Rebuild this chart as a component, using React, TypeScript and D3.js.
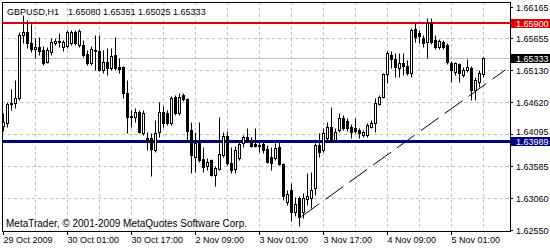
import React from 'react';
import * as d3 from 'd3';

const symbolTitle = 'GBPUSD,H1';
const titleValues = '1.65080 1.65351 1.65025 1.65333';
const copyright = 'MetaTrader, © 2001-2009 MetaQuotes Software Corp.';

const opens = [
  1.6423, 1.6428, 1.6460, 1.6460, 1.6468, 1.6571, 1.6575, 1.6558, 1.6548, 1.6551,
  1.6546, 1.6527, 1.6543, 1.6558, 1.6559, 1.6551, 1.6553, 1.6558, 1.6575, 1.6554,
  1.6554, 1.6540, 1.6525, 1.6546, 1.6545, 1.6514, 1.6527, 1.6517, 1.6538, 1.6519,
  1.6519, 1.6477, 1.6438, 1.6438, 1.6446, 1.6412, 1.6404, 1.6404, 1.6384, 1.6413,
  1.6446, 1.6444, 1.6428, 1.6470, 1.6444, 1.6473, 1.6467, 1.6417, 1.6373, 1.6396,
  1.6370, 1.6358, 1.6368, 1.6344, 1.6353, 1.6376, 1.6407, 1.6363, 1.6353, 1.6371,
  1.6396, 1.6405, 1.6399, 1.6394, 1.6392, 1.6394, 1.6386, 1.6373, 1.6371, 1.6389,
  1.6362, 1.6300, 1.6319, 1.6284, 1.6306, 1.6284, 1.6305, 1.6306, 1.6323, 1.6392,
  1.6384, 1.6404, 1.6421, 1.6400, 1.6417, 1.6436, 1.6431, 1.6421, 1.6420, 1.6417,
  1.6408, 1.6408, 1.6421, 1.6428, 1.6459, 1.6470, 1.6507, 1.6538, 1.6532, 1.6517,
  1.6525, 1.6520, 1.6509, 1.6580, 1.6574, 1.6566, 1.6559, 1.6590, 1.6562, 1.6551,
  1.6559, 1.6554, 1.6525, 1.6511, 1.6524, 1.6506, 1.6514, 1.6517, 1.6481, 1.6494,
  1.65080,
];
const highs = [
  1.6444, 1.6462, 1.6483, 1.6498, 1.6575, 1.6603, 1.6595, 1.6588, 1.6566, 1.6567,
  1.6553, 1.6551, 1.6566, 1.6566, 1.6574, 1.6562, 1.6579, 1.6579, 1.6579, 1.6580,
  1.6562, 1.6546, 1.6553, 1.6571, 1.6571, 1.6546, 1.6549, 1.6549, 1.6567, 1.6533,
  1.6520, 1.6498, 1.6449, 1.6452, 1.6449, 1.6449, 1.6413, 1.6412, 1.6433, 1.6462,
  1.6456, 1.6449, 1.6472, 1.6473, 1.6477, 1.6477, 1.6468, 1.6430, 1.6413, 1.6430,
  1.6389, 1.6371, 1.6370, 1.6358, 1.6438, 1.6413, 1.6415, 1.6389, 1.6391, 1.6400,
  1.6408, 1.6420, 1.6405, 1.6420, 1.6397, 1.6399, 1.6392, 1.6389, 1.6396, 1.6397,
  1.6363, 1.6319, 1.6331, 1.6308, 1.6310, 1.6315, 1.6347, 1.6349, 1.6396, 1.6412,
  1.6420, 1.6430, 1.6454, 1.6420, 1.6444, 1.6441, 1.6436, 1.6426, 1.6436, 1.6420,
  1.6417, 1.6428, 1.6433, 1.6468, 1.6473, 1.6509, 1.6545, 1.6545, 1.6541, 1.6541,
  1.6541, 1.6530, 1.6582, 1.6590, 1.6579, 1.6571, 1.6598, 1.6598, 1.6571, 1.6564,
  1.6562, 1.6558, 1.6528, 1.6527, 1.6525, 1.6519, 1.6532, 1.6520, 1.6503, 1.6514,
  1.65351,
];
const lows = [
  1.6415, 1.6421, 1.6449, 1.6452, 1.6465, 1.6558, 1.6549, 1.6543, 1.6533, 1.6538,
  1.6522, 1.6525, 1.6538, 1.6554, 1.6551, 1.6545, 1.6549, 1.6554, 1.6554, 1.6551,
  1.6535, 1.6522, 1.6522, 1.6514, 1.6512, 1.6509, 1.6506, 1.6514, 1.6514, 1.6509,
  1.6468, 1.6412, 1.6421, 1.6430, 1.6412, 1.6408, 1.6384, 1.6341, 1.6381, 1.6405,
  1.6421, 1.6425, 1.6425, 1.6441, 1.6441, 1.6464, 1.6400, 1.6347, 1.6349, 1.6365,
  1.6349, 1.6352, 1.6341, 1.6326, 1.6352, 1.6373, 1.6360, 1.6347, 1.6347, 1.6368,
  1.6389, 1.6397, 1.6389, 1.6389, 1.6381, 1.6379, 1.6363, 1.6352, 1.6368, 1.6360,
  1.6303, 1.6295, 1.6268, 1.6277, 1.6260, 1.6274, 1.6294, 1.6290, 1.6311, 1.6373,
  1.6381, 1.6400, 1.6397, 1.6397, 1.6413, 1.6417, 1.6415, 1.6404, 1.6412, 1.6404,
  1.6405, 1.6405, 1.6420, 1.6413, 1.6457, 1.6468, 1.6493, 1.6517, 1.6503, 1.6503,
  1.6506, 1.6506, 1.6503, 1.6559, 1.6558, 1.6551, 1.6533, 1.6556, 1.6548, 1.6548,
  1.6548, 1.6524, 1.6494, 1.6506, 1.6494, 1.6503, 1.6511, 1.6465, 1.6465, 1.6486,
  1.65025,
];
const closes = [
  1.6430, 1.6459, 1.6459, 1.6468, 1.6571, 1.6575, 1.6558, 1.6548, 1.6551, 1.6545,
  1.6525, 1.6546, 1.6559, 1.6561, 1.6561, 1.6559, 1.6575, 1.6575, 1.6558, 1.6577,
  1.6538, 1.6525, 1.6548, 1.6545, 1.6514, 1.6527, 1.6517, 1.6537, 1.6517, 1.6515,
  1.6477, 1.6438, 1.6439, 1.6446, 1.6413, 1.6444, 1.6399, 1.6386, 1.6412, 1.6446,
  1.6428, 1.6428, 1.6468, 1.6444, 1.6470, 1.6467, 1.6415, 1.6376, 1.6396, 1.6368,
  1.6357, 1.6365, 1.6344, 1.6355, 1.6378, 1.6407, 1.6363, 1.6352, 1.6384, 1.6394,
  1.6405, 1.6400, 1.6391, 1.6391, 1.6391, 1.6384, 1.6365, 1.6363, 1.6387, 1.6362,
  1.6310, 1.6313, 1.6284, 1.6297, 1.6276, 1.6306, 1.6310, 1.6319, 1.6392, 1.6381,
  1.6412, 1.6421, 1.6400, 1.6413, 1.6436, 1.6420, 1.6420, 1.6413, 1.6415, 1.6412,
  1.6413, 1.6425, 1.6428, 1.6460, 1.6470, 1.6507, 1.6541, 1.6532, 1.6519, 1.6525,
  1.6520, 1.6509, 1.6579, 1.6567, 1.6569, 1.6558, 1.6590, 1.6559, 1.6551, 1.6561,
  1.6551, 1.6527, 1.6514, 1.6525, 1.6509, 1.6514, 1.6519, 1.6481, 1.6498, 1.6509,
  1.65333,
];

const timeLabels = ['29 Oct 2009', '30 Oct 01:00', '30 Oct 17:00', '2 Nov 09:00', '3 Nov 01:00', '3 Nov 17:00', '4 Nov 09:00', '5 Nov 01:00'];
const timeLabelStep = 16;
const gridStep = 8;
const priceLabels = [1.66165, 1.65655, 1.65130, 1.64620, 1.64095, 1.63585, 1.63060, 1.62550];
const resistanceLevel = 1.65900;
const supportLevel = 1.63989;
const bidLevel = 1.65333;
const trendIndex = [74.5, 125.5];
const trendPrice = [1.6276, 1.6514];

const W = 550;
const H = 250;
const L = 2, R = 510, T = 2, B = 231;
const FONT = '"Liberation Sans", Arial, sans-serif';

export default function App() {
  const x = d3.scaleLinear().domain([0, 1]).range([3, 7]);
  const y = d3.scaleLinear().domain([1.62550, 1.66165]).range([229.5, 6.6]);
  const row = (p: number) => Math.round(y(p)) + 0.5;

  const vGrid: number[] = [];
  for (let i = gridStep; x(i) < R - 2; i += gridStep) vGrid.push(i);

  const fmt = d3.format('.5f');
  const trendLine = d3.line<number>()
    .x((_, k) => x(trendIndex[k]) + 0.5)
    .y((_, k) => y(trendPrice[k]));

  const levelBox = (p: number, fill: string) => {
    const cy = row(p);
    return (
      <g>
        <rect x={511} y={cy - 4.5} width={39} height={9} fill={fill} />
        <text x={516} y={cy + 3.2} fill="#fff" fontSize={9} fontFamily={FONT}>{fmt(p)}</text>
      </g>
    );
  };

  return (
    <svg width={W} height={H} style={{ position: 'absolute', left: 0, top: 0, background: '#fff' }}>
      <rect x={0} y={0} width={W} height={H} fill="#fff" />
      <defs>
        <clipPath id="plot">
          <rect x={L} y={T} width={R - L} height={B - T} />
        </clipPath>
      </defs>
      <g clipPath="url(#plot)">
        {priceLabels.filter(p => row(p) > T + 6 && row(p) < B - 3).map(p => (
          <line key={p} x1={L} x2={R} y1={row(p)} y2={row(p)} stroke="#c0c0c0" strokeDasharray="3,3" />
        ))}
        {vGrid.map(i => (
          <line key={i} x1={x(i) + 0.5} x2={x(i) + 0.5} y1={T} y2={B} stroke="#c0c0c0" strokeDasharray="3,3" />
        ))}
        <line x1={L} x2={R} y1={row(bidLevel)} y2={row(bidLevel)} stroke="#c0c0c0" />
        <line x1={L} x2={R} y1={Math.round(y(resistanceLevel))} y2={Math.round(y(resistanceLevel))} stroke="#e00000" strokeWidth={2} />
        <line x1={L} x2={R} y1={Math.round(y(supportLevel)) + 0.5} y2={Math.round(y(supportLevel)) + 0.5} stroke="#000080" strokeWidth={3} />
        {opens.map((o, i) => {
          const c = closes[i];
          const cx = x(i) + 0.5;
          const yO = Math.round(y(o));
          const yC = Math.round(y(c));
          const top = Math.min(yO, yC) + 0.5;
          const bot = Math.max(yO, yC) + 0.5;
          const bull = c >= o;
          return (
            <g key={i}>
              <line x1={cx} x2={cx} y1={row(highs[i])} y2={row(lows[i])} stroke="#000" />
              {bot - top < 1 ? (
                <line x1={cx - 1.5} x2={cx + 1.5} y1={top} y2={top} stroke="#000" />
              ) : (
                <rect x={cx - 1} y={top} width={2} height={bot - top} fill={bull ? '#fff' : '#000'} stroke="#000" />
              )}
            </g>
          );
        })}
        <path d={trendLine([0, 1]) || ''} stroke="#000" strokeWidth={1} strokeDasharray="22,7.4" fill="none" />
      </g>
      <rect x={L + 0.5} y={T + 0.5} width={R - L} height={B - T} fill="none" stroke="#000" />

      <text x={7} y={15} fontSize={9} fontFamily={FONT} fill="#000">{symbolTitle}</text>
      <text x={68} y={15} fontSize={9} fontFamily={FONT} fill="#000">{titleValues}</text>
      <text x={6} y={227} fontSize={10} fontFamily={FONT} fill="#000">{copyright}</text>

      {priceLabels.map(p => {
        const nearBox = Math.abs(row(p) - row(supportLevel)) < 10;
        return (
          <g key={p}>
            <line x1={R} x2={R + 3} y1={row(p)} y2={row(p)} stroke="#000" />
            <text x={516} y={row(p) + (nearBox ? 0 : 3.2)} fontSize={9} fontFamily={FONT} fill="#000">{fmt(p)}</text>
          </g>
        );
      })}
      {levelBox(resistanceLevel, '#e00000')}
      {levelBox(supportLevel, '#000080')}
      {levelBox(bidLevel, '#000')}

      {timeLabels.map((t, k) => {
        const tx = x(k * timeLabelStep) + 0.5;
        return (
          <g key={t}>
            <line x1={tx} x2={tx} y1={B} y2={B + 4} stroke="#000" />
            <text x={tx} y={243} fontSize={9} fontFamily={FONT} fill="#000">{t}</text>
          </g>
        );
      })}
    </svg>
  );
}
